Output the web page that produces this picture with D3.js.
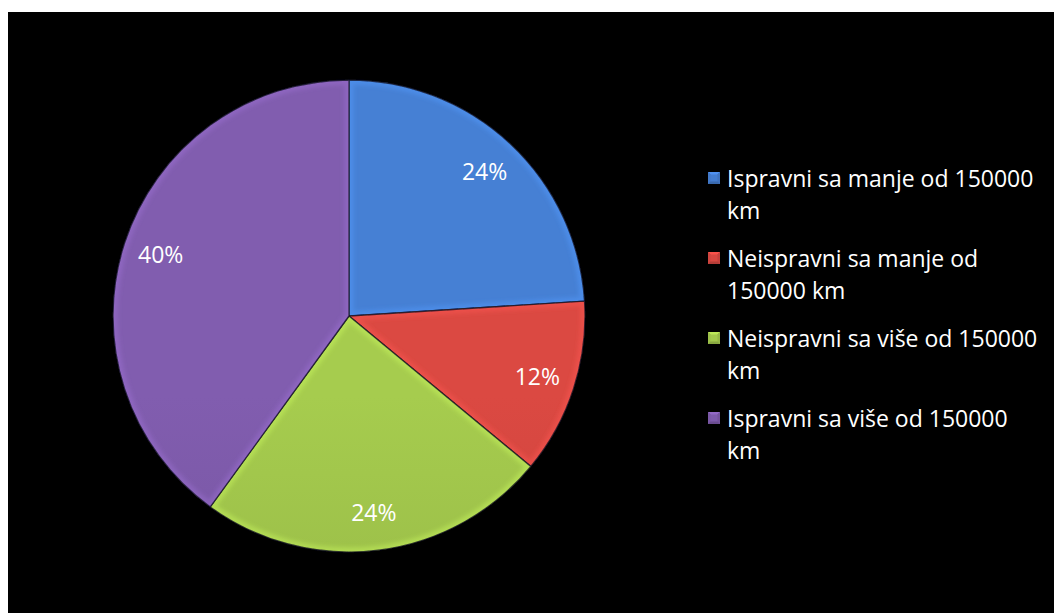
<!DOCTYPE html>
<html>
<head>
<meta charset="utf-8">
<script src="https://cdn.jsdelivr.net/npm/d3@7"></script>
<style>
  html, body { margin: 0; padding: 0; background: #ffffff; }
  svg { display: block; }
</style>
</head>
<body>
<svg id="chart" width="1054" height="613"></svg>
<script>
// Vehicle condition shares (percent)
const categories = [
  "Ispravni sa manje od 150000 km",
  "Neispravni sa manje od 150000 km",
  "Neispravni sa više od 150000 km",
  "Ispravni sa više od 150000 km"
];
const values = [24, 12, 24, 40];
const legendLines = [
  ["Ispravni sa manje od 150000", "km"],
  ["Neispravni sa manje od", "150000 km"],
  ["Neispravni sa više od 150000", "km"],
  ["Ispravni sa više od 150000", "km"]
];
const colors = ["#4279c9", "#d0453f", "#9dc14a", "#7a58a6"];

const svg = d3.select("#chart");
const W = 1054, H = 613;
const FONT = "'Open Sans', 'Noto Sans', sans-serif";

// chart area background
svg.append("rect").attr("x", 8).attr("y", 12).attr("width", W - 8).attr("height", H - 12).attr("fill", "#000");

const cx = 349, cy = 316, R = 236;
const defs = svg.append("defs");

const blur = defs.append("filter").attr("id", "soft").attr("x", "-20%").attr("y", "-20%").attr("width", "140%").attr("height", "140%");
blur.append("feGaussianBlur").attr("stdDeviation", 2.2);

const edgeBlur = defs.append("filter").attr("id", "edge");
edgeBlur.append("feGaussianBlur").attr("stdDeviation", 0.5);

// vertical shading per slice colour
colors.forEach((c, i) => {
  const gr = defs.append("linearGradient").attr("id", "grad" + i)
    .attr("gradientUnits", "userSpaceOnUse")
    .attr("x1", 0).attr("y1", cy - R).attr("x2", 0).attr("y2", cy + R);
  const col = d3.color(c);
  gr.append("stop").attr("offset", "0%").attr("stop-color", col.brighter(0.15));
  gr.append("stop").attr("offset", "100%").attr("stop-color", col.darker(0.3));
});

const pie = d3.pie().value(d => d).sort(null);
const arcs = pie(values);
const arc = d3.arc().innerRadius(0).outerRadius(R);
const labelArc = d3.arc().innerRadius(198).outerRadius(198);

const g = svg.append("g").attr("transform", `translate(${cx},${cy})`);

arcs.forEach((a, i) => {
  defs.append("clipPath").attr("id", "clip" + i)
    .append("path").attr("d", arc(a));
});

const slices = g.selectAll("g.slice").data(arcs).enter().append("g").attr("class", "slice");

slices.append("path")
  .attr("d", arc)
  .attr("fill", (d, i) => `url(#grad${i})`);

// bevel highlight along slice edges
slices.append("path")
  .attr("d", arc)
  .attr("fill", "none")
  .attr("stroke", (d, i) => d3.color(colors[i]).brighter(0.7))
  .attr("stroke-opacity", 0.45)
  .attr("stroke-width", 9)
  .attr("filter", "url(#soft)")
  .attr("clip-path", (d, i) => `url(#clip${i})`);

// separator lines
slices.append("path")
  .attr("d", arc)
  .attr("fill", "none")
  .attr("stroke", "#101020")
  .attr("stroke-opacity", 0.75)
  .attr("stroke-width", 1.3)
  .attr("filter", "url(#edge)");

// value labels
g.selectAll("text.val").data(arcs).enter().append("text")
  .attr("class", "val")
  .attr("transform", d => { const [x, y] = labelArc.centroid(d); return `translate(${x},${y})`; })
  .attr("text-anchor", "middle")
  .attr("dy", "0.36em")
  .attr("fill", "#ffffff")
  .attr("font-family", FONT)
  .attr("font-size", 23)
  .text(d => d.data + "%");

// legend
const lg = svg.append("g");
legendLines.forEach((lines, i) => {
  const y0 = 187 + 80 * i;
  const col = d3.color(colors[i]);
  const mk = lg.append("g").attr("transform", `translate(708,${y0 - 15})`);
  mk.append("rect").attr("width", 12).attr("height", 12).attr("fill", col.darker(0.4));
  mk.append("path").attr("d", "M0,0 L12,0 L6,6 Z").attr("fill", col.brighter(0.5));
  mk.append("path").attr("d", "M0,0 L6,6 L0,12 Z").attr("fill", col);
  mk.append("path").attr("d", "M12,0 L6,6 L12,12 Z").attr("fill", col.darker(0.15));
  mk.append("rect").attr("x", 2.5).attr("y", 2.5).attr("width", 7).attr("height", 7).attr("fill", col.brighter(0.1));
  lines.forEach((t, j) => {
    lg.append("text")
      .attr("x", 727).attr("y", y0 + 32 * j)
      .attr("fill", "#ffffff")
      .attr("font-family", FONT)
      .attr("font-size", 23)
      .text(t);
  });
});
</script>
</body>
</html>
